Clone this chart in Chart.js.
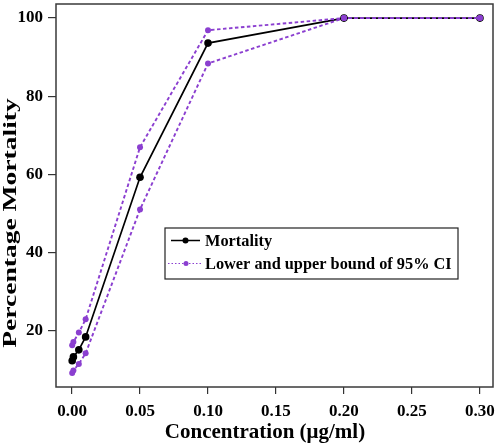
<!DOCTYPE html>
<html>
<head>
<meta charset="utf-8">
<script src="https://cdn.jsdelivr.net/npm/chart.js@4"></script>
<style>
  html, body { margin: 0; padding: 0; background: #fff; }
  #wrap { width: 498px; height: 447px; position: relative; }
</style>
</head>
<body>
<div id="wrap"><canvas id="c"></canvas></div>
<script>
// ---- data ----
const concentrations = [0.0001, 0.001, 0.005, 0.01, 0.05, 0.1, 0.2, 0.3];
const mortality      = [12.4, 13.4, 15.2, 18.5, 59.3, 93.6, 100, 100];
const lowerBound     = [9.3, 9.9, 11.6, 14.3, 51.1, 88.4, 100, 100];
const upperBound     = [16.4, 17.2, 19.6, 23.0, 67.0, 96.9, 100, 100];
const xTickValues    = [0, 0.05, 0.10, 0.15, 0.20, 0.25, 0.30];
const yTickValues    = [20, 40, 60, 80, 100];
const xTitle = 'Concentration (μg/ml)';
const yTitle = 'Percentage Mortality';
const legendLabels = ['Mortality', 'Lower and upper bound of 95% CI'];

const PURPLE = '#8b3fd0';
const SERIF = "'Liberation Serif', 'Times New Roman', serif";

const toPts = (ys) => concentrations.map((x, i) => ({ x: x, y: ys[i] }));

const boxPlugin = {
  id: 'boxPlugin',
  beforeDatasetsDraw(chart) {
    const a = chart.chartArea, ctx = chart.ctx;
    ctx.save();
    ctx.strokeStyle = '#3a3a3a';
    ctx.lineWidth = 1.5;
    ctx.strokeRect(a.left, a.top, a.right - a.left, a.bottom - a.top);
    ctx.restore();
  }
};

const titlePlugin = {
  id: 'axisTitles',
  afterDraw(chart) {
    const ctx = chart.ctx;
    ctx.save();
    ctx.fillStyle = '#000';
    ctx.textAlign = 'center';
    ctx.textBaseline = 'middle';
    // x title
    ctx.font = 'bold 21px ' + SERIF;
    ctx.fillText(xTitle, 265, 433);
    // y title (rotated, stretched along its length like the reference)
    ctx.translate(11, 223);
    ctx.rotate(-Math.PI / 2);
    ctx.scale(1.45, 1);
    ctx.font = 'bold 19px ' + SERIF;
    ctx.fillText(yTitle, 0, 0);
    ctx.restore();
  }
};

const legendPlugin = {
  id: 'legendBox',
  afterDraw(chart) {
    const ctx = chart.ctx;
    const x0 = 165, y0 = 228, w = 293, h = 51;
    ctx.save();
    ctx.fillStyle = '#fff';
    ctx.fillRect(x0, y0, w, h);
    ctx.strokeStyle = '#222';
    ctx.lineWidth = 1.2;
    ctx.strokeRect(x0, y0, w, h);
    // row 1
    let y = 240.5;
    ctx.strokeStyle = '#000';
    ctx.lineWidth = 1.5;
    ctx.setLineDash([]);
    ctx.beginPath(); ctx.moveTo(171, y); ctx.lineTo(200, y); ctx.stroke();
    ctx.fillStyle = '#000';
    ctx.beginPath(); ctx.arc(185.5, y, 3, 0, Math.PI * 2); ctx.fill();
    ctx.font = 'bold 16px ' + SERIF;
    ctx.textBaseline = 'middle';
    ctx.save(); ctx.translate(205, y + 1); ctx.scale(1.02, 1);
    ctx.fillText(legendLabels[0], 0, 0); ctx.restore();
    // row 2
    y = 263.5;
    ctx.strokeStyle = PURPLE;
    ctx.lineWidth = 1;
    ctx.setLineDash([1.5, 2]);
    ctx.beginPath(); ctx.moveTo(168, y); ctx.lineTo(201, y); ctx.stroke();
    ctx.setLineDash([]);
    ctx.fillStyle = PURPLE;
    ctx.beginPath(); ctx.arc(186, y, 2.5, 0, Math.PI * 2); ctx.fill();
    ctx.fillStyle = '#000';
    ctx.save(); ctx.translate(205, y + 1); ctx.scale(1.02, 1);
    ctx.fillText(legendLabels[1], 0, 0); ctx.restore();
    ctx.restore();
  }
};

function zeroPad(scale) {
  scale.paddingTop = 0; scale.paddingBottom = 0;
  scale.paddingLeft = 0; scale.paddingRight = 0;
}

new Chart(document.getElementById('c'), {
  type: 'line',
  data: {
    datasets: [
      {
        label: legendLabels[1] + ' (lower)',
        data: toPts(lowerBound),
        borderColor: PURPLE, backgroundColor: PURPLE,
        borderWidth: 1.9, borderDash: [3.5, 2.5],
        pointRadius: 3, pointBorderWidth: 0,
        order: 0
      },
      {
        label: legendLabels[1] + ' (upper)',
        data: toPts(upperBound),
        borderColor: PURPLE, backgroundColor: PURPLE,
        borderWidth: 1.9, borderDash: [3.5, 2.5],
        pointRadius: 3, pointBorderWidth: 0,
        order: 0
      },
      {
        label: legendLabels[0],
        data: toPts(mortality),
        borderColor: '#000', backgroundColor: '#000',
        borderWidth: 1.7,
        pointRadius: 3.8, pointBorderWidth: 0,
        order: 1
      }
    ]
  },
  options: {
    responsive: true,
    maintainAspectRatio: false,
    animation: false,
    layout: { padding: { top: 3, right: 5, left: 0, bottom: 0 } },
    plugins: {
      legend: { display: false },
      tooltip: { enabled: false }
    },
    scales: {
      x: {
        type: 'linear',
        min: -0.0118, max: 0.3096,
        afterBuildTicks(scale) { scale.ticks = xTickValues.map(v => ({ value: v })); },
        afterFit(scale) { scale.height = 60; zeroPad(scale); },
        grid: { display: true, drawOnChartArea: false, drawTicks: true, tickLength: 7, color: '#333', lineWidth: 1.2 },
        border: { display: false },
        ticks: {
          color: '#000', padding: 7,
          font: { family: SERIF, size: 17, weight: 'bold' },
          callback: (v) => Number(v).toFixed(2),
          maxRotation: 0
        },
        title: { display: false }
      },
      y: {
        type: 'linear',
        min: 5.7, max: 103.6,
        afterBuildTicks(scale) { scale.ticks = yTickValues.map(v => ({ value: v })); },
        afterFit(scale) { scale.width = 56; zeroPad(scale); },
        grid: { display: true, drawOnChartArea: false, drawTicks: true, tickLength: 8, color: '#333', lineWidth: 1.2 },
        border: { display: false },
        ticks: {
          color: '#000', padding: 5,
          font: { family: SERIF, size: 17, weight: 'bold' },
          callback: (v) => String(v)
        },
        title: { display: false }
      }
    }
  },
  plugins: [boxPlugin, titlePlugin, legendPlugin]
});
</script>
</body>
</html>
